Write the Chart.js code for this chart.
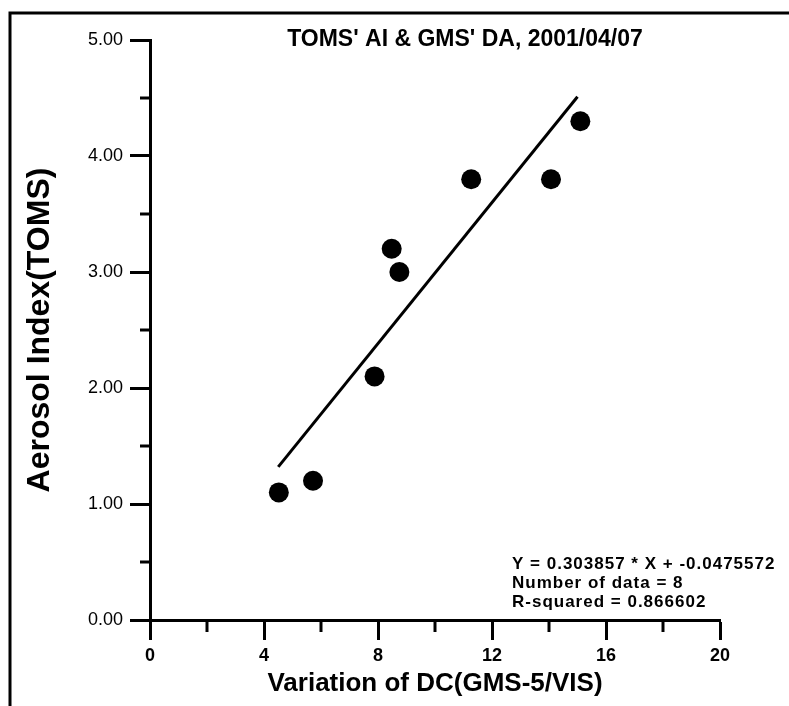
<!DOCTYPE html>
<html lang="en">
<head>
    <meta charset="UTF-8">
    <title>TOMS' AI & GMS' DA</title>
    <script src="https://cdn.jsdelivr.net/npm/chart.js"></script>
    <style>
        html, body { margin: 0; padding: 0; background: #fff; }
        canvas { display: block; }
    </style>
</head>
<body>
    <canvas id="myChart" width="789" height="706"></canvas>
<script>
    // values
    var dcVar = [4.52, 5.72, 7.88, 8.48, 8.75, 11.27, 14.07, 15.1];
    var aiToms = [1.1, 1.2, 2.1, 3.2, 3.0, 3.8, 3.8, 4.3];
    var xTicks = [0, 4, 8, 12, 16, 20];
    var yTicks = [0, 1, 2, 3, 4, 5];
    var xMinor = [2, 6, 10, 14, 18];
    var yMinor = [0.5, 1.5, 2.5, 3.5, 4.5];
    var fitSlope = 0.303857;
    var fitIntercept = -0.0475572;
    var fitX = [4.5, 15.0];
    var notes = ['Y = 0.303857 * X + -0.0475572', 'Number of data = 8', 'R-squared = 0.866602'];
    var chartTitle = "TOMS' AI & GMS' DA, 2001/04/07";

    var points = dcVar.map(function(x, i){ return {x: x, y: aiToms[i]}; });
    var fitLine = fitX.map(function(x){ return {x: x, y: fitSlope * x + fitIntercept}; });

    var font = '"Liberation Sans", Arial, sans-serif';

    var paperPlugin = {
        id: 'paper',
        beforeDraw: function(chart){
            var ctx = chart.ctx;
            ctx.save();
            ctx.fillStyle = '#fff';
            ctx.fillRect(0, 0, chart.width, chart.height);
            // scanned frame
            ctx.strokeStyle = '#000';
            ctx.lineWidth = 3;
            ctx.beginPath();
            ctx.moveTo(10, chart.height);
            ctx.lineTo(10, 13);
            ctx.lineTo(chart.width, 13);
            ctx.stroke();
            ctx.restore();
        },
        afterDraw: function(chart){
            var ctx = chart.ctx;
            var xs = chart.scales.x, ys = chart.scales.y;
            ctx.save();
            ctx.strokeStyle = '#000';
            ctx.lineWidth = 3;
            // minor ticks
            yMinor.forEach(function(v){
                var py = ys.getPixelForValue(v);
                ctx.beginPath();
                ctx.moveTo(xs.left, py);
                ctx.lineTo(xs.left - 10, py);
                ctx.stroke();
            });
            xMinor.forEach(function(v){
                var px = xs.getPixelForValue(v);
                ctx.beginPath();
                ctx.moveTo(px, ys.bottom);
                ctx.lineTo(px, ys.bottom + 12);
                ctx.stroke();
            });
            ctx.fillStyle = '#000';
            ctx.textBaseline = 'middle';
            ctx.textAlign = 'center';
            ctx.font = 'bold 23px ' + font;
            ctx.fillText(chartTitle, 465, 40);
            ctx.textAlign = 'left';
            ctx.font = 'bold 17px ' + font;
            ctx.letterSpacing = '1px';
            notes.forEach(function(t, i){
                ctx.fillText(t, 512, 564 + i * 19);
            });
            ctx.restore();
        }
    };

    new Chart(document.getElementById('myChart'), {
        type: 'scatter',
        data: {
            datasets: [
                {
                    label: 'data',
                    data: points,
                    backgroundColor: '#000',
                    borderColor: '#000',
                    pointRadius: 10,
                    pointBorderWidth: 0
                },
                {
                    type: 'line',
                    label: 'fit',
                    data: fitLine,
                    borderColor: '#000',
                    borderWidth: 3,
                    pointRadius: 0,
                    fill: false
                }
            ]
        },
        options: {
            responsive: false,
            animation: false,
            layout: { padding: { top: 40, right: 69, left: 0, bottom: 0 } },
            plugins: {
                legend: { display: false },
                tooltip: { enabled: false }
            },
            scales: {
                x: {
                    type: 'linear',
                    min: 0,
                    max: 20,
                    afterBuildTicks: function(s){ s.ticks = xTicks.map(function(v){ return {value: v}; }); },
                    afterFit: function(s){ s.height = 86; },
                    grid: { drawOnChartArea: false, drawTicks: true, tickLength: 20, tickWidth: 3, tickColor: '#000' },
                    border: { display: true, color: '#000', width: 3 },
                    ticks: { color: '#000', padding: 5, maxRotation: 0, font: { family: font, size: 18, weight: 'bold' } },
                    title: { display: true, text: 'Variation of DC(GMS-5/VIS)', color: '#000', padding: { top: 0, bottom: 7 }, font: { family: font, size: 26, weight: 'bold' } }
                },
                y: {
                    type: 'linear',
                    min: 0,
                    max: 5,
                    afterBuildTicks: function(s){ s.ticks = yTicks.map(function(v){ return {value: v}; }); },
                    afterFit: function(s){ s.width = 150; },
                    grid: { drawOnChartArea: false, drawTicks: true, tickLength: 20, tickWidth: 3, tickColor: '#000' },
                    border: { display: true, color: '#000', width: 3 },
                    ticks: { color: '#000', padding: 7, font: { family: font, size: 18 }, callback: function(v){ return v.toFixed(2); } },
                    title: { display: true, text: 'Aerosol Index(TOMS)', color: '#000', padding: { top: 21, bottom: 0 }, font: { family: font, size: 32, weight: 'bold' } }
                }
            }
        },
        plugins: [paperPlugin]
    });
</script>
</body>
</html>
